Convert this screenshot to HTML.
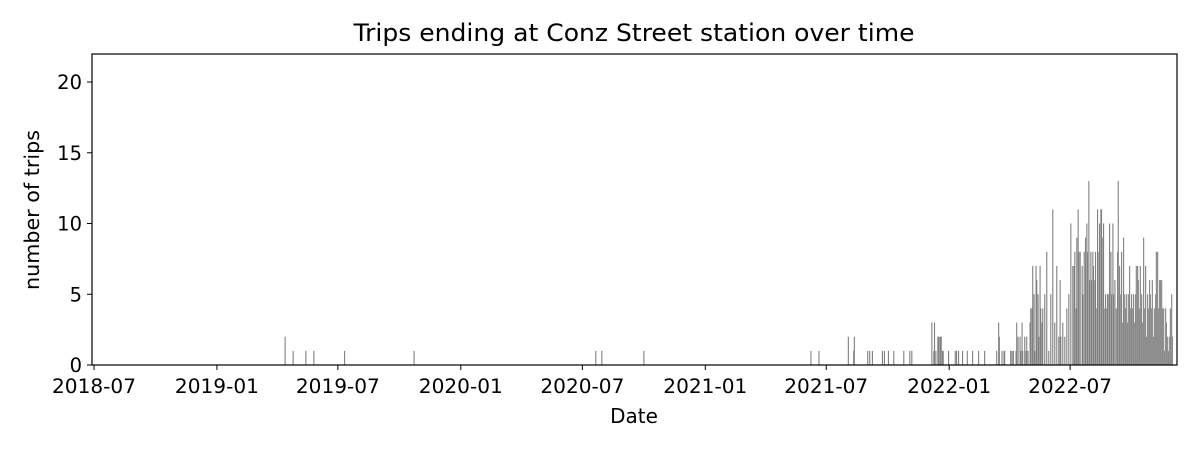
<!DOCTYPE html>
<html><head><meta charset="utf-8"><style>
body{margin:0;background:#fff;}
svg text{font-family:"DejaVu Sans","Liberation Sans",sans-serif;fill:#000;}
</style></head><body>
<svg id="chart" width="1200" height="450" xmlns="http://www.w3.org/2000/svg">
<rect width="1200" height="450" fill="#fff"/>
<text x="634" y="41" font-size="24" text-anchor="middle" textLength="561" lengthAdjust="spacingAndGlyphs">Trips ending at Conz Street station over time</text>
<g id="bars"></g>
<rect x="92" y="54" width="1085" height="311" fill="none" stroke="#000" stroke-width="1.2"/>
<g id="xticks"></g>
<g id="yticks"></g>
<text x="634" y="423" font-size="20" text-anchor="middle">Date</text>
<text transform="translate(39,210) rotate(-90)" font-size="20" text-anchor="middle" textLength="160" lengthAdjust="spacingAndGlyphs">number of trips</text>
</svg>
<script>
// day index from 2018-07-01
const days = [286,298,317,329,375,479,751,760,823,1073,1085,1129,1137,1138,1158,1161,1165,1180,1183,1189,1197,1212,1221,1224,1254,1257,1258,1260,1263,1264,1266,1267,1268,1270,1271,1279,1289,1291,1294,1300,1307,1315,1324,1333,
1351,1354,1355,1359,1362,1363,1372,1374,1376,1380,1381,1383,1386,1387,1389,1390,1393,1395,1396,1398,1401,1402,1404,1405,1407,1408,1410,1411,1413,1414,1416,1417,1419,1420,1423,1426,1429,1432,1435,1438,1441,1444,1446,1447,1450,1453,1456,1459,1462,1465,1467,1468,1470,1471,1473,1474,1476,1479,1480,1482,
1484,1486,1487,1489,1490,1492,1493,1495,1496,1498,1499,1501,1502,1504,1505,1507,1508,1510,1511,1513,1514,1516,1517,1519,1520,1522,1523,1525,1526,1528,1530,1532,1533,1535,1536,1538,1539,1541,1542,1544,1545,1547,1548,1550,1551,1553,1554,1556,1557,1559,1560,1562,1563,1565,1566,1568,1569,1571,1572,1574,1575,1577,1578,1580,1581,1583,1584,1586,1587,1589,1590,1592,1593,1595,1596,1598,1599,1601,1602,1604,1605,1607,1608,1610,1611,1613,1614];
const counts = [2,1,1,1,1,1,1,1,1,1,1,2,1,2,1,1,1,1,1,1,1,1,1,1,3,1,3,1,2,2,2,2,2,1,1,1,1,1,1,1,1,1,1,1,
1,3,2,1,1,1,1,1,1,1,3,2,2,1,3,1,2,1,2,1,3,4,4,7,5,1,7,6,5,2,7,4,3,4,5,8,1,5,11,3,7,2,6,2,3,2,4,5,10,7,7,8,4,9,11,8,8,7,5,8,
9,10,8,13,6,8,6,8,7,6,8,4,11,8,10,11,11,9,10,4,5,4,5,5,10,8,5,10,5,6,4,8,13,7,5,8,3,9,5,4,5,3,5,7,4,5,4,5,3,5,7,7,6,4,7,5,3,9,4,7,2,5,4,6,5,4,6,2,4,5,8,8,4,6,6,6,4,4,1,4,3,2,1,2,4,5,2];
const xTickDays = [0,184,365,549,731,915,1096,1280,1461];
const xTickLabels = ["2018-07","2019-01","2019-07","2020-01","2020-07","2021-01","2021-07","2022-01","2022-07"];
const yTicks = [0,5,10,15,20];

const NS="http://www.w3.org/2000/svg";
const x0=92,x1=1177,dMin=-3,dMax=1621;
const y0=365,y1=54,vMax=21.98;
const xs=d=>x0+(d-dMin)*(x1-x0)/(dMax-dMin);
const ys=v=>y0-v*(y0-y1)/vMax;
const bars=document.getElementById('bars');
days.forEach((d,i)=>{
  const r=document.createElementNS(NS,'rect');
  
  
  r.setAttribute('x',xs(d)-0.5);r.setAttribute('width',1.1);
  r.setAttribute('y',ys(counts[i]));r.setAttribute('height',y0-ys(counts[i]));
  r.setAttribute('fill','#808080');
  bars.appendChild(r);
});
const xt=document.getElementById('xticks');
xTickDays.forEach((d,i)=>{
  const l=document.createElementNS(NS,'line');
  
  
  l.setAttribute('x1',xs(d));l.setAttribute('x2',xs(d));l.setAttribute('y1',365);l.setAttribute('y2',370);l.setAttribute('stroke','#000');
  xt.appendChild(l);
  const t=document.createElementNS(NS,'text');
  
  
  t.setAttribute('x',xs(d));t.setAttribute('y',393);t.setAttribute('font-size','19.5');t.setAttribute('text-anchor','middle');
  t.setAttribute('textLength','84');t.setAttribute('lengthAdjust','spacingAndGlyphs');
  t.textContent=xTickLabels[i];xt.appendChild(t);
});
const yt=document.getElementById('yticks');
yTicks.forEach(v=>{
  const l=document.createElementNS(NS,'line');
  
  
  l.setAttribute('x1',87);l.setAttribute('x2',92);l.setAttribute('y1',ys(v));l.setAttribute('y2',ys(v));l.setAttribute('stroke','#000');
  yt.appendChild(l);
  const t=document.createElementNS(NS,'text');
  
  
  t.setAttribute('x',82);t.setAttribute('y',ys(v)+7);t.setAttribute('font-size','19.5');t.setAttribute('text-anchor','end');
  t.textContent=v;yt.appendChild(t);
});
</script>
</body></html>
